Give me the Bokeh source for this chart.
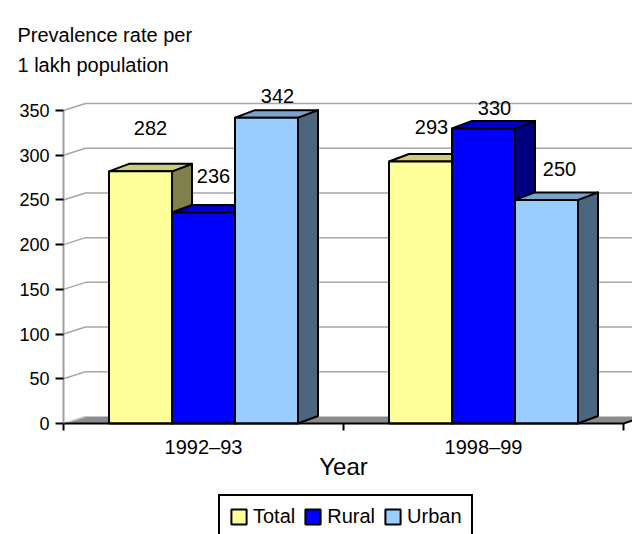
from bokeh.plotting import figure
from bokeh.models import (Range1d, FixedTicker, ColumnDataSource, Label,
                          Legend, LegendItem)
from bokeh.core.properties import value
from bokeh.embed import file_html
from bokeh.resources import INLINE

# ---- data -------------------------------------------------------------
years = ["1992–93", "1998–99"]
series = ["Total", "Rural", "Urban"]
total = [282, 293]
rural = [236, 330]
urban = [342, 250]
y_ticks = [0, 50, 100, 150, 200, 250, 300, 350]

values = [total, rural, urban]

# ---- styling ----------------------------------------------------------
front_colors = ["#FFFF99", "#0000FF", "#99CCFF"]
top_colors = ["#CCCC7A", "#0000CC", "#7AA3CC"]
side_colors = ["#80804C", "#000080", "#4D6680"]
FONT = "Liberation Sans"

# value-label nudges in px (dx, dy) per series, per year
label_nudge = [
    [(10, -43), (11, -34)],
    [(10, -36), (11, -20)],
    [(11, -22), (13, -31)],
]

# ---- canvas geometry --------------------------------------------------
# The frame fills the whole canvas; the axes are pinned at x=0 / y=0.
W, H = 632, 534
ORIGIN_X, ORIGIN_Y = 63, 423   # canvas px of the (0, 0) corner
px_x = 280.0                   # px per year slot
px_y = 313.0 / 350.0           # px per unit of prevalence

wall_dx, wall_dy = 22 / px_x, 7 / px_y     # depth of back wall / floor
bar_dx, bar_dy = 20 / px_x, 7.5 / px_y     # depth of each column
bar_w = 63 / px_x

x0, x1 = -ORIGIN_X / px_x, (W - ORIGIN_X) / px_x
y0, y1 = -(H - ORIGIN_Y) / px_y, ORIGIN_Y / px_y

p = figure(width=W, height=H, x_range=Range1d(x0, x1), y_range=Range1d(y0, y1),
           output_backend="svg", toolbar_location=None, min_border=0)
p.outline_line_color = None
p.xgrid.visible = False
p.ygrid.visible = False
p.background_fill_color = "white"
p.border_fill_color = "white"

# ---- back wall gridlines ---------------------------------------------
gx = [[0, wall_dx, x1 + wall_dx] for v in y_ticks if v > 0]
gy = [[v, v + wall_dy, v + wall_dy] for v in y_ticks if v > 0]
p.multi_line(gx, gy, line_color="#A6A6A6", line_width=1.5)

# ---- floor ------------------------------------------------------------
n = len(years)
p.patch([0, n, n + wall_dx, wall_dx], [0, 0, wall_dy, wall_dy],
        fill_color="#8C8C8C", line_color=None)
p.line([0, wall_dx], [0, wall_dy], line_color="#C8C8C8", line_width=1.5)
p.line([n, n + wall_dx], [0, wall_dy], line_color="black", line_width=2)

# ---- 3-D columns: drawn left to right so nearer faces overlap ---------
front_renderers = []
for s, vals in enumerate(values):
    lefts = [g + 0.5 + (s - 1.5) * bar_w for g in range(n)]
    rights = [l + bar_w for l in lefts]
    xs, ys, cols = [], [], []
    for l, r, v in zip(lefts, rights, vals):
        # side face
        xs.append([r, r, r + bar_dx, r + bar_dx])
        ys.append([0, v, v + bar_dy, bar_dy])
        cols.append(side_colors[s])
        # top face
        xs.append([l, r, r + bar_dx, l + bar_dx])
        ys.append([v, v, v + bar_dy, v + bar_dy])
        cols.append(top_colors[s])
    p.patches("xs", "ys", fill_color="c", line_color="black", line_width=2,
              line_join="round",
              source=ColumnDataSource(dict(xs=xs, ys=ys, c=cols)))
    fr = p.quad(left=lefts, right=rights, bottom=[0] * n, top=vals,
                fill_color=front_colors[s], line_color="black", line_width=2)
    front_renderers.append(fr)

# ---- value labels -----------------------------------------------------
lx, ly, lt, ox, oy = [], [], [], [], []
for s, vals in enumerate(values):
    for g, v in enumerate(vals):
        lx.append(g + 0.5 + (s - 1) * bar_w)
        ly.append(v)
        lt.append(str(v))
        ox.append(label_nudge[s][g][0])
        oy.append(label_nudge[s][g][1])
p.text("x", "y", text="t", x_offset="ox", y_offset="oy",
       source=ColumnDataSource(dict(x=lx, y=ly, t=lt, ox=ox, oy=oy)),
       text_font=value(FONT), text_font_size="20px", text_align="center",
       text_baseline="middle", text_color="black")

# ---- axes, pinned to the origin --------------------------------------
xa = p.xaxis[0]
xa.fixed_location = 0
xa.ticker = FixedTicker(ticks=[0.5, 1.5], minor_ticks=list(range(n + 1)))
xa.major_label_overrides = {0.5: years[0], 1.5: years[1]}
xa.bounds = (0, n)
xa.axis_line_color = "black"
xa.axis_line_width = 2
xa.major_tick_line_color = None
xa.major_tick_out = 0
xa.major_tick_in = 0
xa.minor_tick_line_color = "black"
xa.minor_tick_line_width = 2
xa.minor_tick_in = 0
xa.minor_tick_out = 7
xa.major_label_standoff = 5
xa.major_label_text_font = FONT
xa.major_label_text_font_size = "20px"
xa.major_label_text_color = "black"
xa.axis_label = "Year"
xa.axis_label_standoff = -8
xa.axis_label_text_font = FONT
xa.axis_label_text_font_size = "24px"
xa.axis_label_text_font_style = "normal"
xa.axis_label_text_color = "black"

ya = p.yaxis[0]
ya.fixed_location = 0
ya.ticker = FixedTicker(ticks=y_ticks, minor_ticks=[])
ya.bounds = (0, 350)
ya.axis_line_color = "#A0A0A0"
ya.axis_line_width = 2
ya.major_tick_line_color = "black"
ya.major_tick_line_width = 2
ya.major_tick_in = 0
ya.major_tick_out = 8
ya.minor_tick_line_color = None
ya.major_label_standoff = 6
ya.major_label_text_font = FONT
ya.major_label_text_font_size = "18px"
ya.major_label_text_color = "black"

# ---- title lines ------------------------------------------------------
for txt, base in (("Prevalence rate per", 34), ("1 lakh population", 64)):
    p.add_layout(Label(x=(17 - ORIGIN_X) / px_x, y=(ORIGIN_Y - base) / px_y,
                       text=txt, text_font=FONT, text_font_size="20px",
                       text_baseline="alphabetic", text_color="black"))

# ---- legend -----------------------------------------------------------
legend = Legend(
    items=[LegendItem(label=s, renderers=[r]) for s, r in zip(series, front_renderers)],
    orientation="horizontal", location=(218, -5),
    border_line_color="black", border_line_width=2, border_line_alpha=1,
    background_fill_color="white", background_fill_alpha=1,
    padding=9, spacing=8, label_standoff=5, margin=0,
    glyph_width=19, glyph_height=19,
    label_text_font=FONT, label_text_font_size="20px",
    label_text_color="black",
)
p.add_layout(legend)

open("out.html", "w").write(file_html(p, INLINE))
